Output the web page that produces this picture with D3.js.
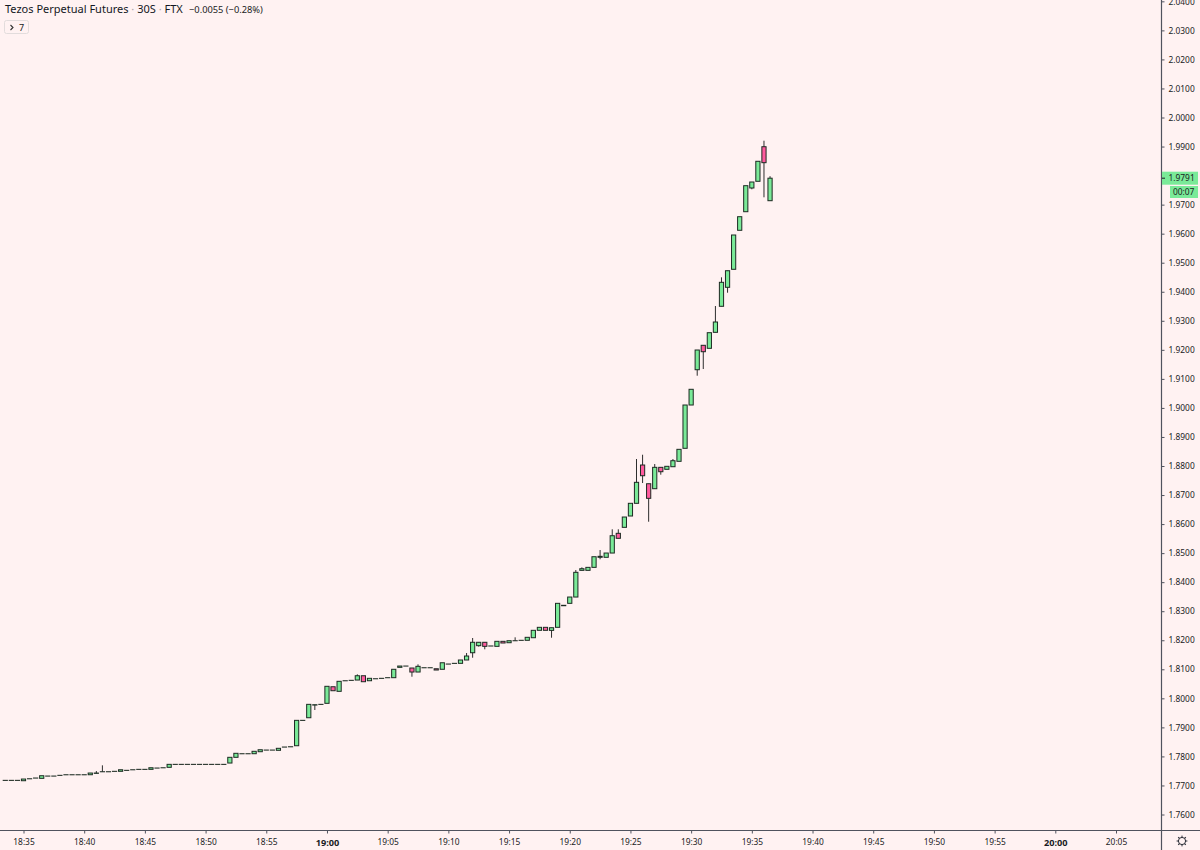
<!DOCTYPE html>
<html><head><meta charset="utf-8">
<script src="https://cdn.jsdelivr.net/npm/d3@7/dist/d3.min.js"></script>
<style>html,body{margin:0;padding:0;background:#fff2f2;overflow:hidden}svg{display:block}text{font-family:"Noto Sans",sans-serif;fill:#1a1c24}</style>
</head><body><svg id="c" width="1200" height="850"></svg>
<script>
const titleParts = ["Tezos Perpetual Futures","30S","FTX"];
const changeText = "−0.0055 (−0.28%)";
const lastPrice = 1.9791, countdown = "00:07";
const startTime = "2021-01-01T18:33:30Z";
const barMinutes = 0.5;
const priceTicks = [1.76,1.77,1.78,1.79,1.80,1.81,1.82,1.83,1.84,1.85,1.86,1.87,1.88,1.89,1.90,1.91,1.92,1.93,1.94,1.95,1.96,1.97,1.98,1.99,2.00,2.01,2.02,2.03,2.04];
const timeTicks = ["18:35","18:40","18:45","18:50","18:55","19:00","19:05","19:10","19:15","19:20","19:25","19:30","19:35","19:40","19:45","19:50","19:55","20:00","20:05"];
const opens = [1.77176,1.77176,1.77176,1.77163,1.77231,1.77256,1.77245,1.77324,1.77324,1.77349,1.77369,1.77369,1.77369,1.77369,1.77369,1.77417,1.77473,1.77473,1.77487,1.77487,1.77521,1.77541,1.77555,1.77555,1.77555,1.776,1.7761,1.77624,1.77727,1.77727,1.77727,1.77727,1.77727,1.77727,1.77727,1.77727,1.77727,1.77772,1.77969,1.78093,1.78093,1.78093,1.78162,1.78219,1.78219,1.7821,1.78323,1.78333,1.78368,1.79242,1.79332,1.79768,1.79793,1.79828,1.80399,1.80241,1.80606,1.8062,1.8063,1.80778,1.80606,1.80675,1.80689,1.80711,1.80711,1.81067,1.81112,1.81044,1.80906,1.81054,1.81054,1.81019,1.81,1.81181,1.81205,1.81205,1.8132,1.8157,1.81813,1.8193,1.81803,1.8179,1.81963,1.81915,1.81984,1.81998,1.81998,1.82087,1.82342,1.82445,1.8234,1.82445,1.83189,1.83271,1.83488,1.84407,1.84407,1.8451,1.84856,1.84856,1.85003,1.85682,1.85888,1.86278,1.86715,1.88034,1.87389,1.87218,1.87954,1.87886,1.87975,1.88161,1.88609,1.901,1.91315,1.92156,1.92052,1.92603,1.93499,1.94153,1.94773,1.96116,1.96756,1.97573,1.97803,1.98994,1.97135];
const closes = [1.77176,1.77176,1.77176,1.77221,1.77231,1.77256,1.77335,1.77324,1.77324,1.77349,1.77369,1.77369,1.77369,1.77369,1.77428,1.77428,1.77473,1.77473,1.77487,1.77541,1.77521,1.77541,1.77555,1.77555,1.7761,1.776,1.7761,1.77727,1.77727,1.77727,1.77727,1.77727,1.77727,1.77727,1.77727,1.77727,1.77727,1.77969,1.78107,1.78093,1.78093,1.78176,1.7823,1.78219,1.78219,1.78279,1.78323,1.78333,1.79242,1.79242,1.79793,1.7978,1.79793,1.80414,1.80262,1.80586,1.80606,1.8062,1.80778,1.80572,1.80689,1.80675,1.80689,1.80711,1.81,1.81112,1.81112,1.80906,1.81102,1.81054,1.81054,1.80975,1.81225,1.81181,1.81205,1.8132,1.81457,1.8193,1.8193,1.8179,1.81803,1.81963,1.81905,1.81984,1.81984,1.81998,1.82101,1.82342,1.82445,1.82342,1.82431,1.83271,1.83203,1.83488,1.84339,1.84463,1.8451,1.84876,1.8489,1.85003,1.85599,1.8551,1.86243,1.86715,1.87438,1.87665,1.86887,1.87954,1.87803,1.87989,1.88182,1.88574,1.901,1.90641,1.91994,1.91935,1.9259,1.92958,1.94325,1.94724,1.95954,1.96584,1.97652,1.97779,1.98492,1.98444,1.9791];
const wickHighs = {15:1.77497,16:1.77693,58:1.80826,68:1.8117,76:1.8156,77:1.82077,84:1.82101,94:1.84418,95:1.8451,98:1.85107,100:1.8582,101:1.8582,104:1.88241,105:1.88388,107:1.88068,110:1.88241,117:1.93509,118:1.94497,125:1.99201,126:1.9798};
const wickLows = {51:1.79598,67:1.80744,77:1.81398,78:1.81779,79:1.81688,90:1.82087,98:1.84787,105:1.87414,106:1.86081,108:1.877,114:1.91109,115:1.91339,119:1.93967,123:1.97528,125:1.97252};

const svg = d3.select("#c");
const bg = "#fff2f2", axisCol = "#50535e", up = "#7aea98", down = "#ff5a9e", wickCol = "#2e2e2e";
const t0 = Date.parse(startTime);
const parseTick = s => new Date(Date.parse("2021-01-01T"+s+":00Z"));
const x = d3.scaleUtc().domain([parseTick("18:35"), parseTick("20:05")]).range([23.5, 1116]);
const y = d3.scaleLinear().domain([1.76, 2.0]).range([814.5, 117.5]);
const bars = opens.map((o,i)=>{const c=closes[i];return {i,o,c,t:new Date(t0+i*barMinutes*60000),h:wickHighs[i]??Math.max(o,c),l:wickLows[i]??Math.min(o,c)};});

svg.append("rect").attr("width",1200).attr("height",850).attr("fill",bg);

const g = svg.append("g");
g.selectAll("line.w").data(bars.filter(d=>d.h>Math.max(d.o,d.c)||d.l<Math.min(d.o,d.c))).join("line").attr("class","w")
  .attr("x1",d=>x(d.t)).attr("x2",d=>x(d.t))
  .attr("y1",d=>y(d.h)).attr("y2",d=>y(d.l)).attr("stroke",wickCol).attr("stroke-width",1);
g.selectAll("rect.b").data(bars).join("rect").attr("class","b")
  .attr("x",d=>x(d.t)-2.1).attr("width",4.2)
  .attr("y",d=>y(Math.max(d.o,d.c)))
  .attr("height",d=>Math.max(0.05,Math.abs(y(d.o)-y(d.c))))
  .attr("fill",d=>d.c>=d.o?up:down).attr("stroke","#1c2a22").attr("stroke-width",1);

const yAxis = d3.axisRight(y).tickValues(priceTicks).tickFormat(d3.format(".4f")).tickSize(3).tickPadding(4);
const ya = svg.append("g").attr("transform","translate(1161.5,0)").call(yAxis);
const xAxis = d3.axisBottom(x).tickValues(timeTicks.map(parseTick)).tickFormat(d3.utcFormat("%H:%M")).tickSize(3).tickPadding(6);
const xa = svg.append("g").attr("transform","translate(0,830.5)").call(xAxis);
[ya,xa].forEach(a=>{a.select(".domain").remove();a.selectAll("line").attr("stroke",axisCol);a.selectAll("text").attr("font-size",8.4).attr("font-family",'"Noto Sans",sans-serif').attr("fill","#1a1c24");});
const isMajor = d => ["19:00","20:00"].includes(d3.utcFormat("%H:%M")(d));
xa.selectAll(".tick text").attr("font-weight",d=>isMajor(d)?700:400).attr("font-size",d=>isMajor(d)?9.2:8.4);

svg.append("line").attr("x1",1161.5).attr("x2",1161.5).attr("y1",0).attr("y2",850).attr("stroke",axisCol).attr("stroke-width",1.2);
svg.append("line").attr("x1",0).attr("x2",1200).attr("y1",830.5).attr("y2",830.5).attr("stroke",axisCol).attr("stroke-width",1.2);

// last price tag
const ly = y(lastPrice);
svg.append("rect").attr("x",1162).attr("y",ly-6.5).attr("width",36).attr("height",13).attr("fill",up);
svg.append("line").attr("x1",1162).attr("x2",1165).attr("y1",ly).attr("y2",ly).attr("stroke","#1a1c24");
svg.append("text").attr("x",1168.5).attr("y",ly+3).attr("font-size",8.4).text(d3.format(".4f")(lastPrice));
svg.append("rect").attr("x",1170).attr("y",186).attr("width",28).attr("height",12).attr("fill",up);
svg.append("text").attr("x",1173).attr("y",195).attr("font-size",8.4).text(countdown);

// legend
const title = svg.append("text").attr("x",5).attr("y",13).attr("font-size",11).style("fill","#131722");
titleParts.forEach((p,i)=>{
  if(i) title.append("tspan").style("fill","#a9a5a5").text(" · ");
  title.append("tspan").text(p);
});
svg.append("text").attr("x",189).attr("y",13).attr("font-size",9.3).text(changeText);
svg.append("rect").attr("x",4.5).attr("y",20.5).attr("width",24).attr("height",13).attr("rx",2).attr("fill","none").attr("stroke","#e2dcdc");
svg.append("path").attr("d","M10.5 25 L13 27.5 L10.5 30").attr("fill","none").attr("stroke","#333").attr("stroke-width",1.1);
svg.append("text").attr("x",19).attr("y",31).attr("font-size",9).text("7");

// gear
const gear = svg.append("g").attr("transform","translate(1182,841)").attr("fill","none").attr("stroke","#2a2d36").attr("stroke-width",1);
gear.append("circle").attr("r",3.6);
d3.range(0,360,45).forEach(a=>gear.append("line").attr("x1",3.6).attr("x2",5.4).attr("transform",`rotate(${a})`));
</script></body></html>
